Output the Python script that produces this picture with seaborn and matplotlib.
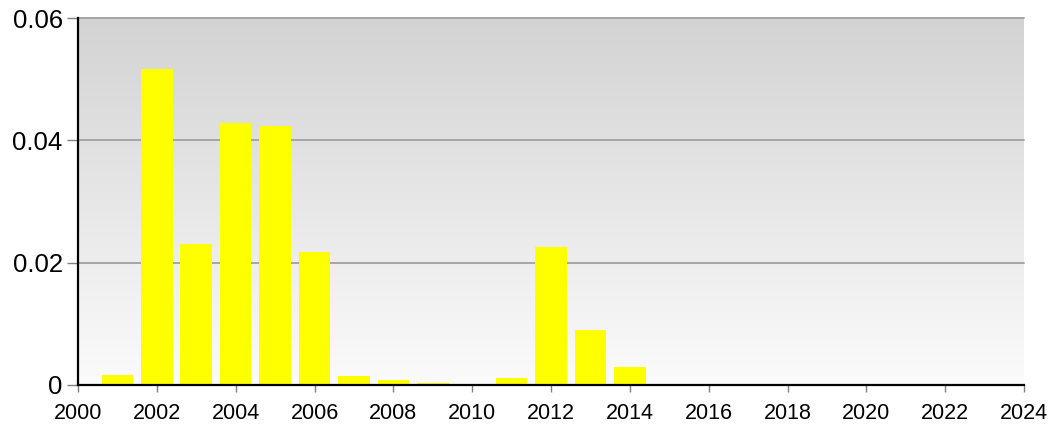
import matplotlib
matplotlib.use("Agg")
import matplotlib.pyplot as plt
import seaborn as sns
import numpy as np
import pandas as pd

years = [2001, 2002, 2003, 2004, 2005, 2006, 2007, 2008, 2009, 2010, 2011, 2012, 2013, 2014]
values = [0.0017, 0.0517, 0.0231, 0.0429, 0.0424, 0.0218, 0.0014, 0.0008, 0.0004, 0.0,
          0.0011, 0.0225, 0.0090, 0.0029]
xticks = list(range(2000, 2025, 2))
yticks = [0, 0.02, 0.04, 0.06]
ytick_labels = ["0", "0.02", "0.04", "0.06"]

df = pd.DataFrame({"year": years, "value": values})

sns.set_style("white")
plt.rcParams['font.family'] = ['Liberation Sans', 'DejaVu Sans']

fig = plt.figure(figsize=(10.51, 4.28), dpi=100)
ax = fig.add_axes([78 / 1051, 1 - 385 / 428, 946 / 1051, 367 / 428])

# grey gradient background, darker at the top
grad = np.linspace(0, 1, 256).reshape(-1, 1)
ax.imshow(grad, cmap=matplotlib.colors.LinearSegmentedColormap.from_list(
    "bg", ["#d3d3d3", "#fbfbfb"]), aspect="auto", extent=[0, 1, 0, 1],
    origin="upper", transform=ax.transAxes, zorder=0)

sns.barplot(data=df, x="year", y="value", native_scale=True, width=0.8,
            color="#ffff00", saturation=1, edgecolor="none", ax=ax, zorder=3)

ax.set_xlim(2000, 2024)
ax.set_ylim(0, 0.06)
ax.set_xticks(xticks)
ax.set_xticklabels([str(t) for t in xticks], fontsize=15.5, color="black")
ax.set_yticks(yticks)
ax.set_yticklabels(ytick_labels, fontsize=18.5, color="black")
ax.set_xlabel("")
ax.set_ylabel("")

for y in yticks[1:]:
    ax.axhline(y, color="#a0a0a0", lw=1.3, zorder=1, clip_on=False)

for s in ["top", "right"]:
    ax.spines[s].set_visible(False)
ax.spines["left"].set_color("black")
ax.spines["left"].set_linewidth(1.6)
ax.spines["bottom"].set_color("black")
ax.spines["bottom"].set_linewidth(1.6)
ax.spines["left"].set_zorder(5)
ax.spines["bottom"].set_zorder(5)

ax.tick_params(axis="y", direction="out", length=8, width=1, color="#808080", pad=3,
               left=True)
ax.tick_params(axis="x", direction="out", length=5, width=1, color="#808080", pad=8,
               bottom=True)

fig.savefig("out.png", dpi=100)
